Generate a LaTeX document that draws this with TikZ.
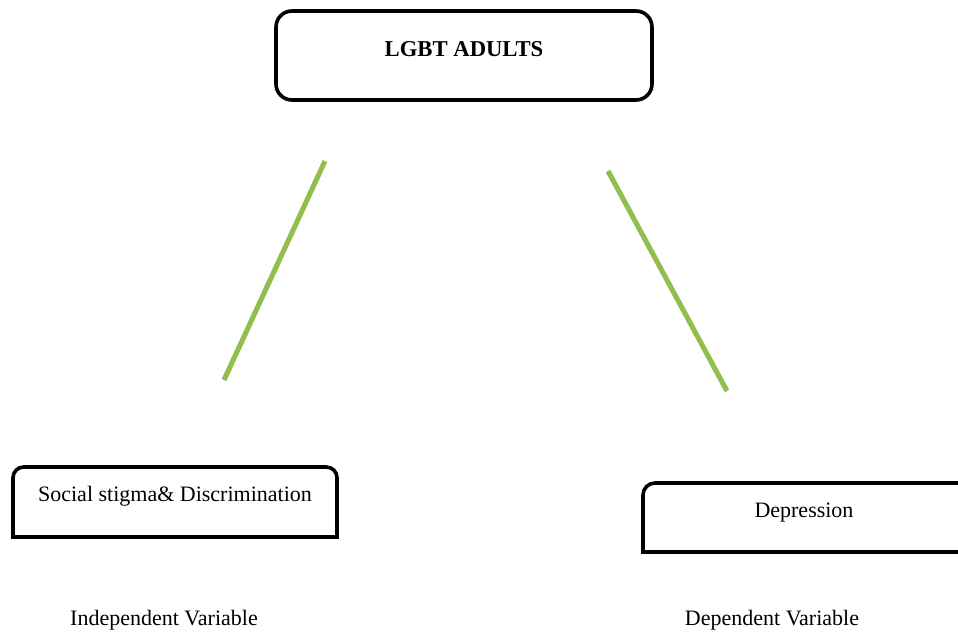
\documentclass[tikz,border=0pt]{standalone}
\usepackage{fontspec}
\setmainfont{Liberation Serif}
\definecolor{lineGreen}{RGB}{146,190,80}
\begin{document}
\begin{tikzpicture}[x=0.75pt,y=-0.75pt,
  boxline/.style={line width=2.7pt, draw=black},
  link/.style={line width=3.8pt, draw=lineGreen},
  txt/.style={font=\fontsize{16.5}{20}\selectfont, inner sep=0pt},
  title/.style={font=\fontsize{17}{20}\selectfont\bfseries, inner sep=0pt}]
\useasboundingbox (0,0) rectangle (958,639);
\clip (0,0) rectangle (958,639);
% top box
\coordinate (lgbtNW) at (276,11);
\coordinate (lgbtSE) at (652,100);
\draw[boxline, rounded corners=12pt] (lgbtNW) rectangle (lgbtSE);
\node[title] (lgbt) at (464,49) {LGBT ADULTS};
% left box
\coordinate (socSW) at (13,537);
\coordinate (socNW) at (13,467);
\coordinate (socNE) at (337,467);
\coordinate (socSE) at (337,537);
\draw[boxline] (socSW) [rounded corners=8pt] -- (socNW) -- (socNE) [sharp corners] -- (socSE) -- cycle;
\node[txt] (soc) at (175,496) {Social stigma\& Discrimination};
% right box
\coordinate (depSE) at (980,552);
\coordinate (depSW) at (643,552);
\coordinate (depNW) at (643,483);
\coordinate (depNE) at (980,483);
\draw[boxline] (depSE) -- (depSW) [rounded corners=9pt] -- (depNW) [sharp corners] -- (depNE);
\node[txt] (dep) at (804,513) {Depression};
% green lines
\coordinate (g1a) at (325,161);
\coordinate (g1b) at (224,380);
\coordinate (g2a) at (608,171);
\coordinate (g2b) at (727,391);
\draw[link] (g1a) -- (g1b);
\draw[link] (g2a) -- (g2b);
% bottom labels
\node[txt] (indep) at (164,620) {Independent Variable};
\node[txt] (depv) at (772,620) {Dependent Variable};
\end{tikzpicture}
\end{document}
